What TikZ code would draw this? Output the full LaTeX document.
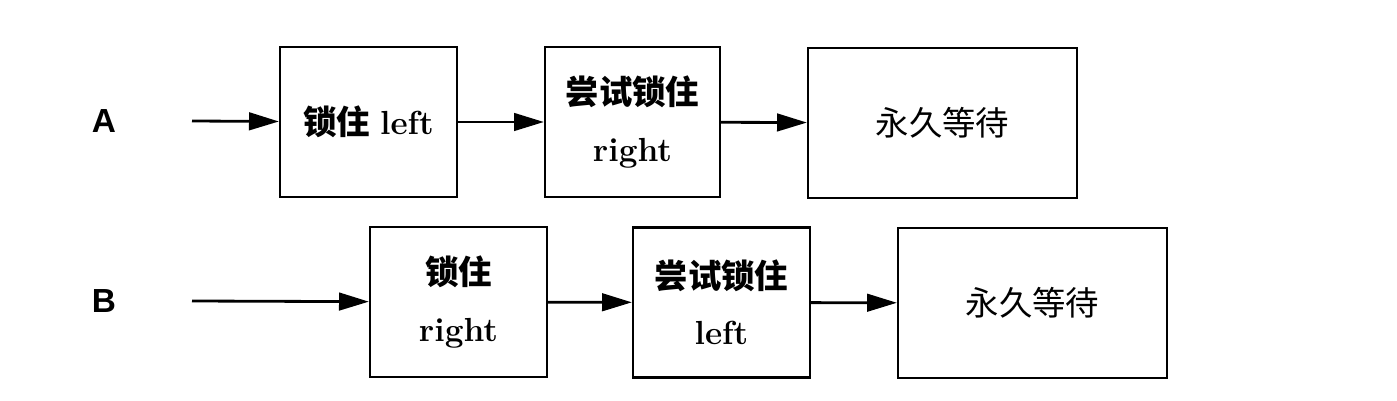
\documentclass[tikz,border=0pt]{standalone}
\usepackage{fontspec}
\newfontfamily\cjk{Noto Sans CJK SC}
\setsansfont{Liberation Sans}
\usetikzlibrary{arrows.meta}
\begin{document}
\begin{tikzpicture}
    [
      x=0.02cm, y=-0.02cm,
      every node/.style={black},
      box/.style={draw, line width=1.3pt, inner sep=0pt, minimum height=3cm,
        align=center, font=\fontsize{19}{32}\selectfont},
      label/.style={font=\sffamily\bfseries\fontsize{19}{20}\selectfont},
      flow/.style={line width=1.6pt, -{Triangle[length=17pt, width=10pt]}},
    ]

    \useasboundingbox (0,0) rectangle (1397,401);

    % thread A
    \node [label] (labA) at (104,121) {A};
    \coordinate (inA) at (192,121);
    \node [box, minimum width=3.54cm] (lockA) at (368.5,122) {{\cjk\bfseries 锁住} \bfseries left};
    \node [box, minimum width=3.5cm] (tryA) at (632.5,122) {{\cjk\bfseries 尝试锁住}\\ \bfseries right};
    \node [box, minimum width=5.38cm] (waitA) at (942.5,123) {\cjk 永久等待};

    \draw [flow] (inA) -- (lockA);
    \draw [flow] (lockA) -- (tryA);
    \draw [flow] (tryA) -- (waitA);

    % thread B
    \node [label] (labB) at (104,301) {B};
    \coordinate (inB) at (192,301);
    \node [box, minimum width=3.54cm] (lockB) at (458.5,302) {{\cjk\bfseries 锁住}\\ \bfseries right};
    \node [box, minimum width=3.54cm] (tryB) at (721.5,302.5) {{\cjk\bfseries 尝试锁住}\\ \bfseries left};
    \node [box, minimum width=5.38cm] (waitB) at (1032.5,303) {\cjk 永久等待};

    \draw [flow] (inB) -- (lockB);
    \draw [flow] (lockB) -- (tryB);
    \draw [flow] (tryB) -- (waitB);
  \end{tikzpicture}
\end{document}
